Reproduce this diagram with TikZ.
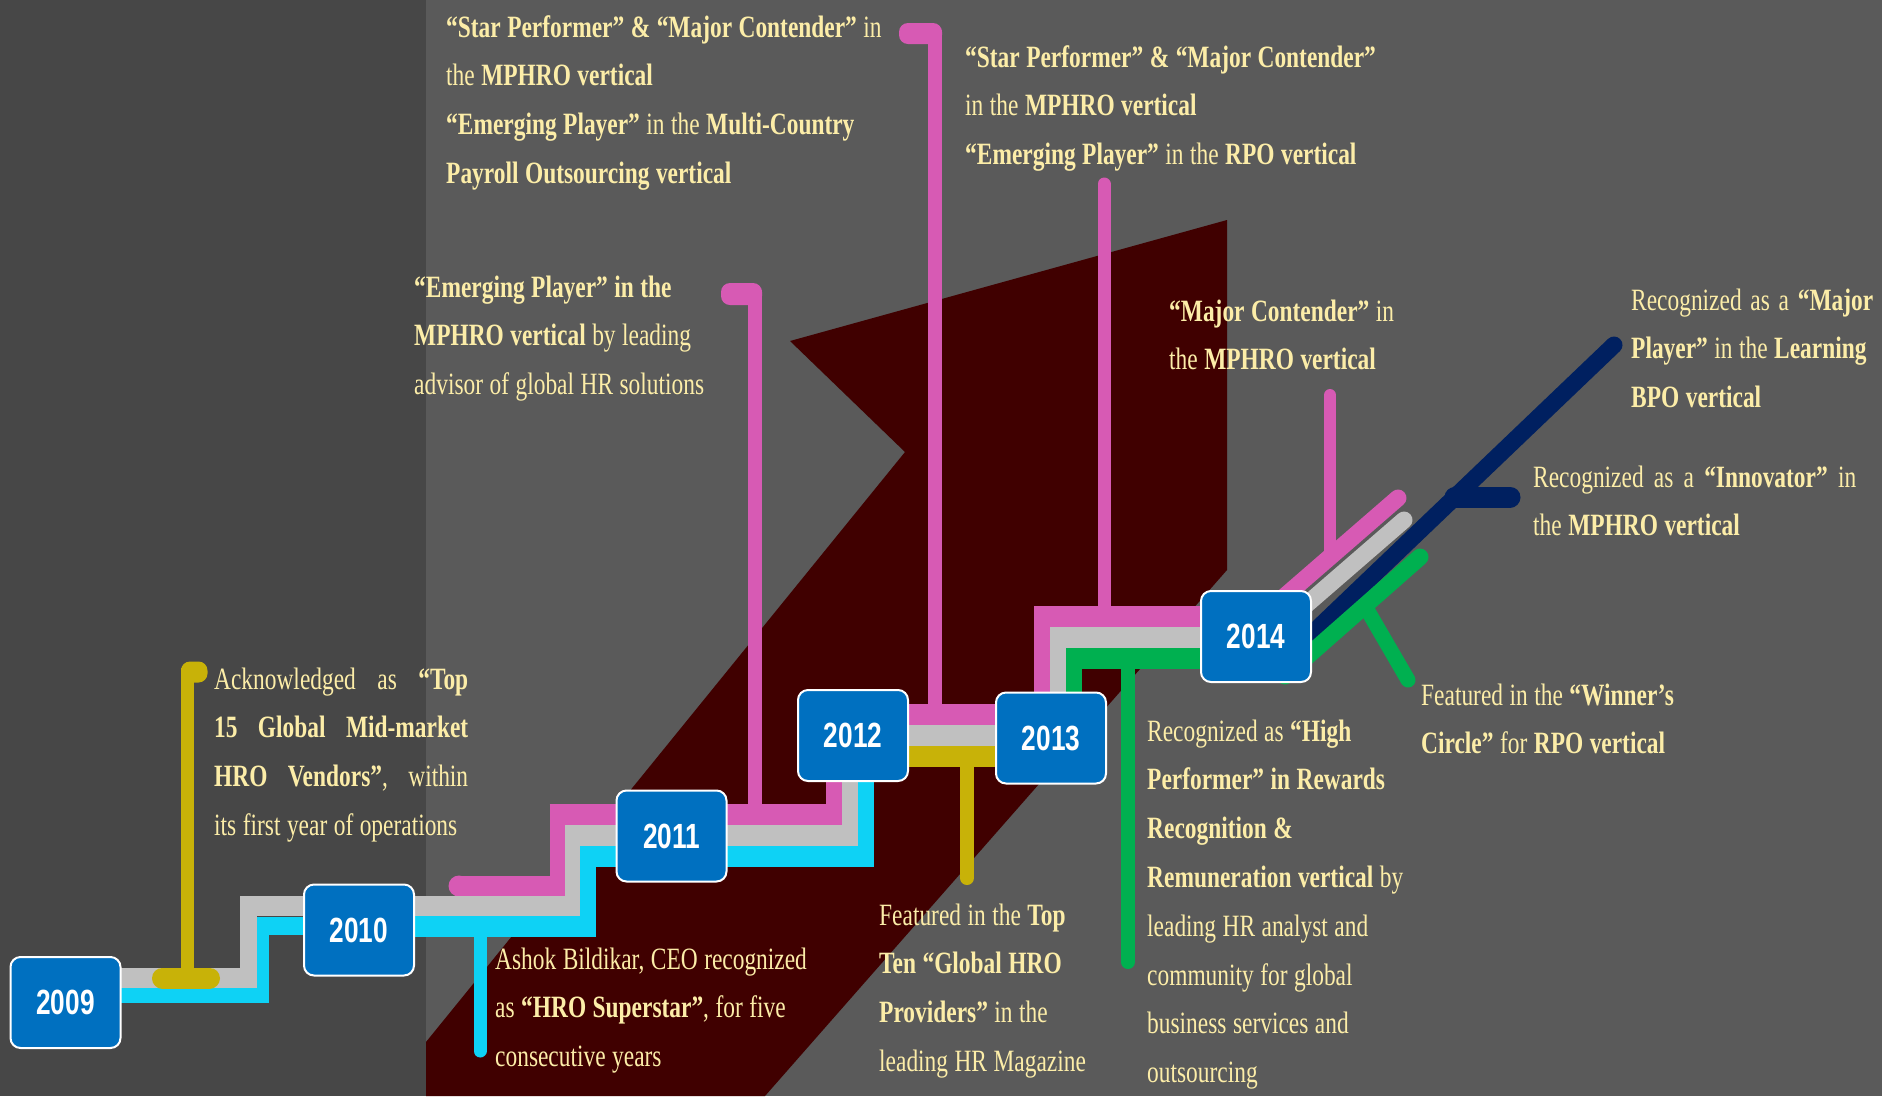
\documentclass[tikz,border=0pt]{standalone}
\usepackage{fontspec}
\setmainfont{Liberation Serif}[FakeStretch=0.755]
\newfontfamily\yrfam{Liberation Sans}[FakeStretch=0.75]
\definecolor{panelc}{HTML}{474747}
\definecolor{bgc}{HTML}{5A5A5A}
\definecolor{arrowc}{HTML}{400000}
\definecolor{pinkc}{HTML}{D75AB4}
\definecolor{grayc}{HTML}{C0C0C0}
\definecolor{cyanc}{HTML}{0ED2F5}
\definecolor{olivec}{HTML}{C8B208}
\definecolor{greenc}{HTML}{00B050}
\definecolor{navyc}{HTML}{002060}
\definecolor{boxc}{HTML}{0070C0}
\definecolor{txtc}{HTML}{FCEDA8}
\newcommand{\descfont}{\fontsize{31}{48.8}\selectfont}
\newcommand{\tightspaces}{\frenchspacing\spaceskip=6.5pt plus 6pt minus 1pt\relax
  \xspaceskip=6.5pt plus 6pt minus 1pt\relax}
\tikzset{
  hseg/.style={line width=21pt},
  vseg/.style={line width=16pt},
  stem/.style={line width=14pt},
  dseg/.style={line width=17pt, line cap=round},
  yearbox/.style={draw=white, line width=2pt, fill=boxc, rounded corners=10pt,
    minimum width=110pt, minimum height=91pt, inner sep=0pt, text=white,
    font=\fontsize{35}{40}\selectfont\yrfam\bfseries},
  desc/.style={text=txtc, font=\descfont, anchor=base west, inner sep=0pt,
    text width=560pt, align=left, execute at begin node=\tightspaces}
}
\begin{document}
\begin{tikzpicture}[x=1pt,y=-1pt]
\useasboundingbox (0,0) rectangle (1882,1096);
% background
\fill[bgc] (0,0) rectangle (1882,1096);
\fill[panelc] (0,0) rectangle (426,1096);
\fill[arrowc] (426,1096) -- (426,1042) -- (905,452) -- (790,341) -- (1227,220) -- (1227,570) -- (765,1096) -- cycle;

% ---------- callout stems ----------
% 2009 olive
\draw[olivec, line width=13pt] (187.5,978) -- (187.5,668);
\fill[olivec, rounded corners=9pt] (181,661.5) rectangle (207.5,682.5);
% 2010 cyan
\draw[cyanc, line width=13pt, line cap=round] (480,926) -- (480,1051);
% 2011 pink
\draw[pinkc, stem] (755,814) -- (755,290);
\fill[pinkc, rounded corners=9pt] (721,283) rectangle (762,305);
% 2012 pink
\draw[pinkc, stem] (935,714) -- (935,30);
\fill[pinkc, rounded corners=9pt] (899,23) rectangle (942,44);
% 2012 olive
\draw[olivec, stem, line cap=round] (967,756) -- (967,878);
% 2013 pink
\draw[pinkc, line width=13pt, line cap=round] (1104,616) -- (1104,184);
% 2013 green
\draw[greenc, stem, line cap=round] (1128,658) -- (1128,962);
% 2014 pink
\draw[pinkc, line width=12pt, line cap=round] (1330,557) -- (1330,395);

% ---------- 2009 -> 2010 ----------
\draw[cyanc, line width=18pt] (121,994) -- (269,994);
\draw[cyanc, line width=14pt] (262,1003) -- (262,917);
\draw[cyanc, line width=18pt] (255,926) -- (305,926);
\draw[grayc, line width=20pt] (121,978) -- (257,978);
\draw[grayc, line width=17pt] (248.5,988) -- (248.5,896);
\draw[grayc, line width=20pt] (240,906) -- (305,906);
\draw[olivec, line width=21pt, line cap=round] (162.5,978) -- (209.5,978);

% ---------- 2010 -> 2011 -> 2012 ----------
\fill[pinkc] (459,886) circle (10.5);
\draw[pinkc, hseg] (459,886) -- (565.5,886);
\draw[pinkc, vseg] (557.5,896.5) -- (557.5,803.5);
\draw[pinkc, hseg] (549.5,814) -- (842,814);
\draw[pinkc, vseg] (834,824.5) -- (834,770);

\draw[grayc, hseg] (414,906) -- (581,906);
\draw[grayc, vseg] (573,916.5) -- (573,824.5);
\draw[grayc, hseg] (565,835) -- (858,835);
\draw[grayc, vseg] (850,845.5) -- (850,770);

\draw[cyanc, hseg] (414,926) -- (596,926);
\draw[cyanc, vseg] (588,936.5) -- (588,845.5);
\draw[cyanc, hseg] (580,856) -- (874,856);
\draw[cyanc, vseg] (866,866.5) -- (866,770);

% ---------- 2012 -> 2013 ----------
\draw[pinkc, hseg] (900,714) -- (1000,714);
\draw[grayc, hseg] (900,735) -- (1000,735);
\draw[olivec, hseg] (900,756) -- (1000,756);

% ---------- 2013 -> 2014 ----------
\draw[pinkc, vseg] (1042,700) -- (1042,605.5);
\draw[pinkc, hseg] (1034,616) -- (1262,616);
\draw[grayc, vseg] (1058,700) -- (1058,626.5);
\draw[grayc, hseg] (1050,637) -- (1269,637);
\draw[greenc, vseg] (1074,700) -- (1074,647.5);
\draw[greenc, hseg] (1066,658) -- (1300,658);

% ---------- 2014 diagonals ----------
\draw[pinkc, dseg] (1262,616) -- (1398,498);
\draw[grayc, dseg] (1269,637) -- (1404,520);
\draw[navyc, dseg] (1295,650) -- (1614,345);
\draw[navyc, line width=21pt, line cap=round] (1455,497) -- (1510,497);
\draw[greenc, dseg] (1285,676) -- (1420,557);
\draw[greenc, line width=15pt, line cap=round] (1365,606) -- (1408,680);

% ---------- year boxes ----------
\node[yearbox] (y2009) at (65.5,1002.5) {2009};
\node[yearbox] (y2010) at (359,930) {2010};
\node[yearbox] (y2011) at (671.5,836) {2011};
\node[yearbox] (y2012) at (853,735.5) {2012};
\node[yearbox] (y2013) at (1051,738) {2013};
\node[yearbox] (y2014) at (1256,636.5) {2014};

% ---------- texts ----------
\node[desc] (t2009) at (214,689) {%
\makebox[254pt][s]{Acknowledged as \textbf{“Top}}\\
\makebox[254pt][s]{\textbf{15 Global Mid-market}}\\
\makebox[254pt][s]{\textbf{HRO Vendors”}, within}\\
its first year of operations};

\node[desc] (t2010) at (495,969) {%
Ashok Bildikar, CEO recognized\\
as \textbf{“HRO Superstar”}, for five\\
consecutive years};

\node[desc] (t2011) at (414,297) {%
\textbf{“Emerging Player” in the}\\
\textbf{MPHRO vertical} by leading\\
advisor of global HR solutions};

\node[desc] (t2012a) at (446,37) {%
\textbf{“Star Performer” \& “Major Contender”} in\\
the \textbf{MPHRO vertical}\\
\textbf{“Emerging Player”} in the \textbf{Multi-Country}\\
\textbf{Payroll Outsourcing vertical}};

\node[desc] (t2012b) at (879,925) {%
Featured in the \textbf{Top}\\
\textbf{Ten “Global HRO}\\
\textbf{Providers”} in the\\
leading HR Magazine};

\node[desc] (t2013a) at (965,67) {%
\textbf{“Star Performer” \& “Major Contender”}\\
in the \textbf{MPHRO vertical}\\
\textbf{“Emerging Player”} in the \textbf{RPO vertical}};

\node[desc] (t2013b) at (1147,741) {%
Recognized as \textbf{“High}\\
\textbf{Performer” in Rewards}\\
\textbf{Recognition \&}\\
\textbf{Remuneration vertical} by\\
leading HR analyst and\\
community for global\\
business services and\\
outsourcing};

\node[desc] (t2014a) at (1169,321) {%
\textbf{“Major Contender”} in\\
the \textbf{MPHRO vertical}};

\node[desc] (t2014b) at (1631,310) {%
\makebox[242pt][s]{Recognized as a \textbf{“Major}}\\
\textbf{Player”} in the \textbf{Learning}\\
\textbf{BPO vertical}};

\node[desc] (t2014c) at (1533,487) {%
\makebox[323pt][s]{Recognized as a \textbf{“Innovator”} in}\\
the \textbf{MPHRO vertical}};

\node[desc] (t2014d) at (1421,705) {%
Featured in the \textbf{“Winner’s}\\
\textbf{Circle”} for \textbf{RPO vertical}};
\end{tikzpicture}
\end{document}
